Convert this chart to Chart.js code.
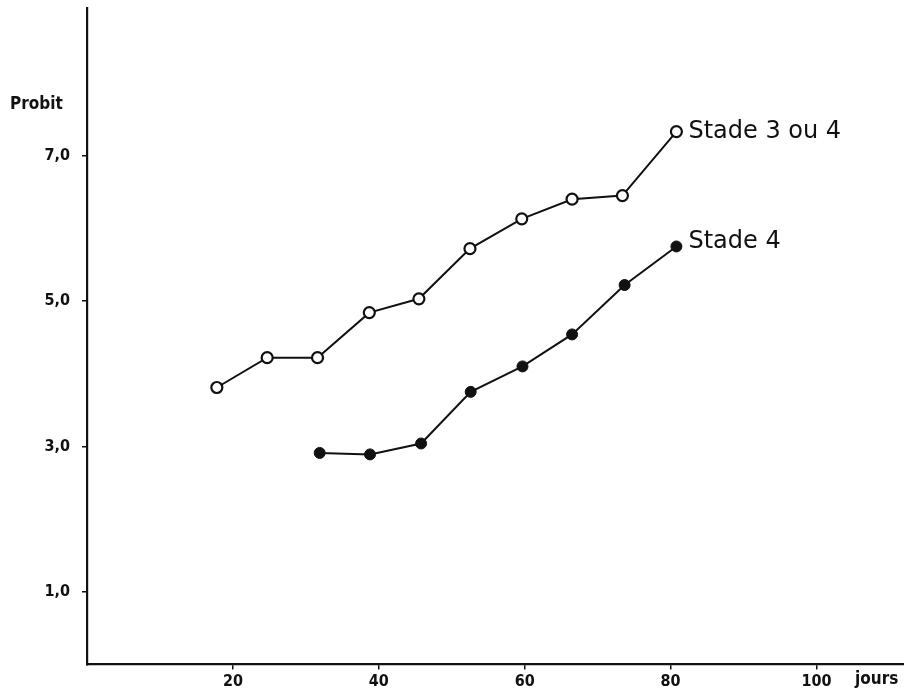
<!DOCTYPE html>
<html>
<head>
<meta charset="utf-8">
<script src="https://cdn.jsdelivr.net/npm/chart.js@4.4.1/dist/chart.umd.min.js"></script>
<style>
  html, body { margin: 0; padding: 0; background: #fff; }
  #wrap { width: 904px; height: 691px; position: relative; }
</style>
</head>
<body>
<div id="wrap"><canvas id="myChart"></canvas></div>
<script>
// days after start
const days34 = [17.8, 24.7, 31.6, 38.7, 45.5, 52.5, 59.6, 66.5, 73.4, 80.8];
const probit34 = [3.81, 4.22, 4.22, 4.84, 5.03, 5.72, 6.13, 6.40, 6.45, 7.33];

const days4 = [31.9, 38.8, 45.8, 52.6, 59.7, 66.5, 73.7, 80.8];
const probit4 = [2.91, 2.89, 3.04, 3.75, 4.10, 4.54, 5.22, 5.75];

const seriesNames = ["Stade 3 ou 4", "Stade 4"];
const xTicks = [20, 40, 60, 80, 100];
const yTicks = [1, 3, 5, 7];

const tickFont = { family: "DejaVu Sans Condensed", size: 16, weight: "bold" };

const toPoints = (xs, ys) => xs.map((x, i) => ({ x: x, y: ys[i] }));

// series name next to the last point, and the axis titles
const labelPlugin = {
  id: "labels",
  afterDatasetsDraw(chart) {
    const c = chart.ctx;
    c.save();
    c.fillStyle = "#111";
    c.textBaseline = "middle";
    c.textAlign = "left";
    c.font = "24px 'DejaVu Sans'";
    const dy = [0, -5];
    chart.data.datasets.forEach((ds, i) => {
      const pts = chart.getDatasetMeta(i).data;
      const last = pts[pts.length - 1];
      c.fillText(ds.label, last.x + 12, last.y + dy[i]);
    });
    c.font = "bold 17px 'DejaVu Sans Condensed'";
    c.textBaseline = "alphabetic";
    c.fillText("Probit", 10, 109);
    c.fillText("jours", 855, 684);
    c.restore();
  },
};

const data = {
  datasets: [
    {
      label: seriesNames[0],
      data: toPoints(days34, probit34),
      showLine: true,
      borderColor: "#111",
      borderWidth: 2,
      pointRadius: 5.5,
      pointBorderWidth: 2.2,
      pointBackgroundColor: "#fff",
      pointBorderColor: "#111",
    },
    {
      label: seriesNames[1],
      data: toPoints(days4, probit4),
      showLine: true,
      borderColor: "#111",
      borderWidth: 2,
      pointRadius: 5.5,
      pointBorderWidth: 1,
      pointBackgroundColor: "#111",
      pointBorderColor: "#111",
    },
  ],
};

const config = {
  type: "scatter",
  data: data,
  options: {
    responsive: true,
    maintainAspectRatio: false,
    animation: false,
    layout: { autoPadding: false, padding: { top: 8, right: 0, left: 0, bottom: 0 } },
    plugins: {
      legend: { display: false },
      tooltip: { enabled: false },
    },
    scales: {
      x: {
        type: "linear",
        min: 0,
        max: 112,
        border: { display: true, color: "#111", width: 2.2 },
        grid: { drawOnChartArea: false, drawTicks: true, tickLength: 5, color: "#111", lineWidth: 1.5 },
        afterBuildTicks: (scale) => {
          scale.ticks = xTicks.map((v) => ({ value: v }));
        },
        afterFit: (scale) => {
          scale.height = 26.5;
          scale.paddingLeft = 0;
          scale.paddingRight = 0;
        },
        ticks: {
          color: "#111",
          font: tickFont,
          padding: 3,
          maxRotation: 0,
          autoSkip: false,
        },
      },
      y: {
        type: "linear",
        min: 0,
        max: 9.03,
        border: { display: true, color: "#111", width: 2.2 },
        grid: { drawOnChartArea: false, drawTicks: true, tickLength: 5, color: "#111", lineWidth: 1.5 },
        afterBuildTicks: (scale) => {
          scale.ticks = yTicks.map((v) => ({ value: v }));
        },
        afterFit: (scale) => {
          scale.width = 87;
          scale.paddingTop = 0;
          scale.paddingBottom = 0;
        },
        ticks: {
          color: "#111",
          font: tickFont,
          padding: 12,
          autoSkip: false,
          callback: (v) => v.toFixed(1).replace(".", ","),
        },
      },
    },
  },
  plugins: [labelPlugin],
};

const myChart = new Chart(document.getElementById("myChart").getContext("2d"), config);
</script>
</body>
</html>
